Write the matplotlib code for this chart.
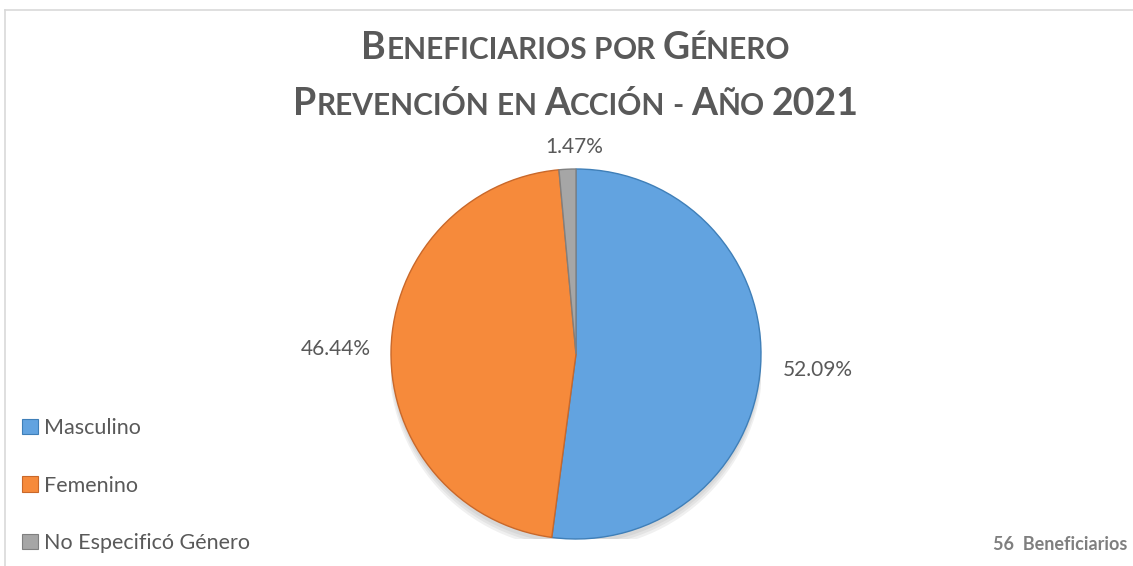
import matplotlib
matplotlib.use("Agg")
import matplotlib.pyplot as plt
import numpy as np
from matplotlib.offsetbox import TextArea, HPacker, AnchoredOffsetbox
from matplotlib.patches import Rectangle, Ellipse

categories = ["Masculino", "Femenino", "No Especificó Género"]
values = [52.09, 46.44, 1.47]
colors = ["#62A3E0", "#F68A3B", "#A6A6A6"]
edge_colors = ["#3F7FB8", "#C9682A", "#808080"]
title_lines = ["Beneficiarios por Género", "Prevención en Acción - Año 2021"]
footer = "56  Beneficiarios"

FONT = "Lato"
TXT = "#595959"

fig = plt.figure(figsize=(11.33, 5.66), dpi=100)
fig.patch.set_facecolor("white")

# chart frame
fig.add_artist(plt.Line2D([5/1133, 5/1133], [0, 1 - 10/566], color="#D9D9D9", lw=1.2, transform=fig.transFigure))
fig.add_artist(plt.Line2D([5/1133, 1], [1 - 10/566, 1 - 10/566], color="#D9D9D9", lw=1.2, transform=fig.transFigure))

ax = fig.add_axes([390/1133, 27/566, 372/1133, 370/566])
ax.set_xlim(-1, 1)
ax.set_ylim(-1, 1)
ax.axis("off")

# soft shadow
for i, a in enumerate([0.05, 0.05, 0.06]):
    ax.add_patch(Ellipse((0.0, -0.025 - 0.01 * i), 2.0 + 0.01 * i, 2.0 + 0.01 * i,
                         color="black", alpha=a, lw=0, zorder=0))

wedges, _ = ax.pie(values, colors=colors, startangle=90, counterclock=False,
                   radius=1.0, wedgeprops=dict(linewidth=1.0),
                   frame=False)
for w, ec in zip(wedges, edge_colors):
    w.set_edgecolor(ec)
    w.set_zorder(2)
ax.set_xlim(-1, 1)
ax.set_ylim(-1, 1)

dists = [1.31, 1.30, 1.12]
for w, v, d in zip(wedges, values, dists):
    ang = np.deg2rad((w.theta1 + w.theta2) / 2)
    ax.text(d * np.cos(ang) + (0.04 if d < 1.2 else 0), d * np.sin(ang), f"{v:.2f}%",
            ha="center", va="center", fontsize=15, color=TXT, family=FONT,
            clip_on=False)

# title in small caps
def small_caps(line, big=27, small=21.5):
    words = line.split(" ")
    boxes = []
    for wi, word in enumerate(words):
        if wi > 0:
            boxes.append(TextArea(" ", textprops=dict(fontsize=small, family=FONT, weight="bold", color=TXT)))
        first = word[0]
        rest = word[1:]
        if first.isdigit():
            boxes.append(TextArea(word, textprops=dict(fontsize=big, family=FONT, weight="bold", color=TXT)))
            continue
        size_first = big if first.isupper() else small
        boxes.append(TextArea(first.upper(), textprops=dict(fontsize=size_first, family=FONT, weight="bold", color=TXT)))
        if rest:
            boxes.append(TextArea(rest.upper(), textprops=dict(fontsize=small, family=FONT, weight="bold", color=TXT)))
    return HPacker(children=boxes, align="baseline", pad=0, sep=0)

for line, yc in zip(title_lines, [48 / 566, 104 / 566]):
    box = small_caps(line)
    ab = AnchoredOffsetbox(loc="center", child=box, pad=0, frameon=False,
                           bbox_to_anchor=(576 / 1133, 1 - yc), bbox_transform=fig.transFigure,
                           borderpad=0)
    fig.add_artist(ab)

# legend
handles = [Rectangle((0, 0), 1, 1, facecolor=c, edgecolor=ec, lw=0.8) for c, ec in zip(colors, edge_colors)]
leg = fig.legend(handles, categories, loc="upper left", bbox_to_anchor=(22 / 1133, 1 - 418 / 566),
                 frameon=False, labelspacing=1.75, handlelength=0.72, handleheight=0.72,
                 handletextpad=0.3, borderpad=0, borderaxespad=0,
                 prop=dict(family=FONT, size=15.5))
for t in leg.get_texts():
    t.set_color(TXT)

fig.text(1127 / 1133, 1 - 545 / 566, footer, ha="right", va="center", fontsize=13,
         weight="bold", color="#7F7F7F", family=FONT)

fig.savefig("out.png", dpi=100, facecolor="white")
